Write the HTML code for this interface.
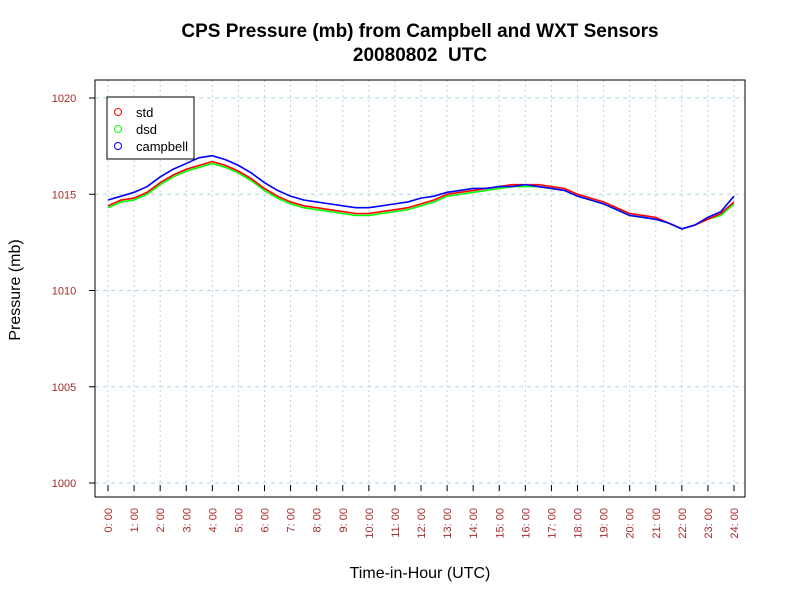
<!DOCTYPE html>
<html><head><meta charset="utf-8"><style>
body{margin:0;background:#fff;}
svg{display:block;font-family:"Liberation Sans",sans-serif;}
</style></head><body>
<svg id="c" width="800" height="600">
<rect width="800" height="600" fill="#fff"/>
<text x="420" y="37" text-anchor="middle" font-size="19" font-weight="bold">CPS Pressure (mb) from Campbell and WXT Sensors</text>
<text x="420" y="61" text-anchor="middle" font-size="19" font-weight="bold">20080802&#160; UTC</text>
<text x="420" y="578" text-anchor="middle" font-size="16">Time-in-Hour (UTC)</text>
<text transform="translate(20,290) rotate(-90)" text-anchor="middle" font-size="16">Pressure (mb)</text>
<g id="grid"></g><g id="series"></g><g id="axes"></g>
<rect x="95" y="80" width="650" height="417" fill="none" stroke="#000"/>
<g>
<rect x="107" y="97" width="87" height="62" fill="#fff" stroke="#000"/>
<circle cx="118" cy="112" r="3.5" fill="none" stroke="#f00"/><text x="136" y="117" font-size="13">std</text>
<circle cx="118" cy="129" r="3.5" fill="none" stroke="#0f0"/><text x="136" y="134" font-size="13">dsd</text>
<circle cx="118" cy="146" r="3.5" fill="none" stroke="#00f"/><text x="136" y="151" font-size="13">campbell</text>
</g>
</svg>
<script>
const hours=[0,0.5,1,1.5,2,2.5,3,3.5,4,4.5,5,5.5,6,6.5,7,7.5,8,8.5,9,9.5,10,10.5,11,11.5,12,12.5,13,13.5,14,14.5,15,15.5,16,16.5,17,17.5,18,18.5,19,19.5,20,20.5,21,21.5,22,22.5,23,23.5,24];
const campbell=[1014.7,1014.9,1015.1,1015.4,1015.9,1016.3,1016.6,1016.9,1017.0,1016.8,1016.5,1016.1,1015.6,1015.2,1014.9,1014.7,1014.6,1014.5,1014.4,1014.3,1014.3,1014.4,1014.5,1014.6,1014.8,1014.9,1015.1,1015.2,1015.3,1015.3,1015.4,1015.4,1015.5,1015.4,1015.3,1015.2,1014.9,1014.7,1014.5,1014.2,1013.9,1013.8,1013.7,1013.5,1013.2,1013.4,1013.8,1014.1,1014.9];
const std=[1014.4,1014.7,1014.8,1015.1,1015.6,1016.0,1016.3,1016.5,1016.7,1016.5,1016.2,1015.8,1015.3,1014.9,1014.6,1014.4,1014.3,1014.2,1014.1,1014.0,1014.0,1014.1,1014.2,1014.3,1014.5,1014.7,1015.0,1015.1,1015.2,1015.3,1015.4,1015.5,1015.5,1015.5,1015.4,1015.3,1015.0,1014.8,1014.6,1014.3,1014.0,1013.9,1013.8,1013.5,1013.2,1013.4,1013.7,1014.0,1014.6];
const dsd=[1014.3,1014.6,1014.7,1015.0,1015.5,1015.9,1016.2,1016.4,1016.6,1016.4,1016.1,1015.7,1015.2,1014.8,1014.5,1014.3,1014.2,1014.1,1014.0,1013.9,1013.9,1014.0,1014.1,1014.2,1014.4,1014.6,1014.9,1015.0,1015.1,1015.2,1015.3,1015.4,1015.4,1015.4,1015.3,1015.2,1014.9,1014.7,1014.5,1014.2,1013.9,1013.8,1013.7,1013.5,1013.2,1013.4,1013.7,1013.9,1014.5];
const yTicks=[1000,1005,1010,1015,1020];
const xTickHours=[0,1,2,3,4,5,6,7,8,9,10,11,12,13,14,15,16,17,18,19,20,21,22,23,24];
const NS="http://www.w3.org/2000/svg";
function X(h){return 108+h*(734-108)/24;}
function Y(v){return 98+(1020-v)*19.25;}
function mk(t,a,p){const e=document.createElementNS(NS,t);for(const k in a)e.setAttribute(k,a[k]);p.appendChild(e);return e;}
const grid=document.getElementById('grid'),axes=document.getElementById('axes'),ser=document.getElementById('series');
yTicks.forEach(v=>{
 const g=mk('line',{x1:95,x2:745,y1:Y(v),y2:Y(v),stroke:'#add8e6','stroke-dasharray':'4,4'},grid);
 
 
 mk('line',{x1:89,x2:95,y1:Y(v),y2:Y(v),stroke:'#000'},axes);
 const t=mk('text',{x:64,y:Y(v)+4,'text-anchor':'middle','font-size':11,fill:'#a52a2a'},axes);t.textContent=v;
 
 
});
xTickHours.forEach(h=>{
 const g=mk('line',{x1:X(h),x2:X(h),y1:80,y2:497,stroke:'#add8e6','stroke-dasharray':'2,3'},grid);
 
 
 mk('line',{x1:X(h),x2:X(h),y1:485,y2:491,stroke:'#000'},axes);
 const t=mk('text',{transform:`translate(${X(h)+4},${508}) rotate(-90)`,'text-anchor':'end','font-size':11,fill:'#a52a2a'},axes);
 t.textContent=h+': 00';
 
 
});
function line(vals,color,name){
 let d='M'+X(hours[0])+','+Y(vals[0]);
 for(let i=1;i<hours.length;i++){d+=' L'+X(hours[i])+','+Y(vals[i]);}
 const p=mk('path',{d:d,fill:'none',stroke:color,'stroke-width':1.6},ser);
 
 
}
line(dsd,'#0f0','dsd-series');
line(std,'#f00','std-series');
line(campbell,'#00f','campbell-series');
</script>
</body></html>
